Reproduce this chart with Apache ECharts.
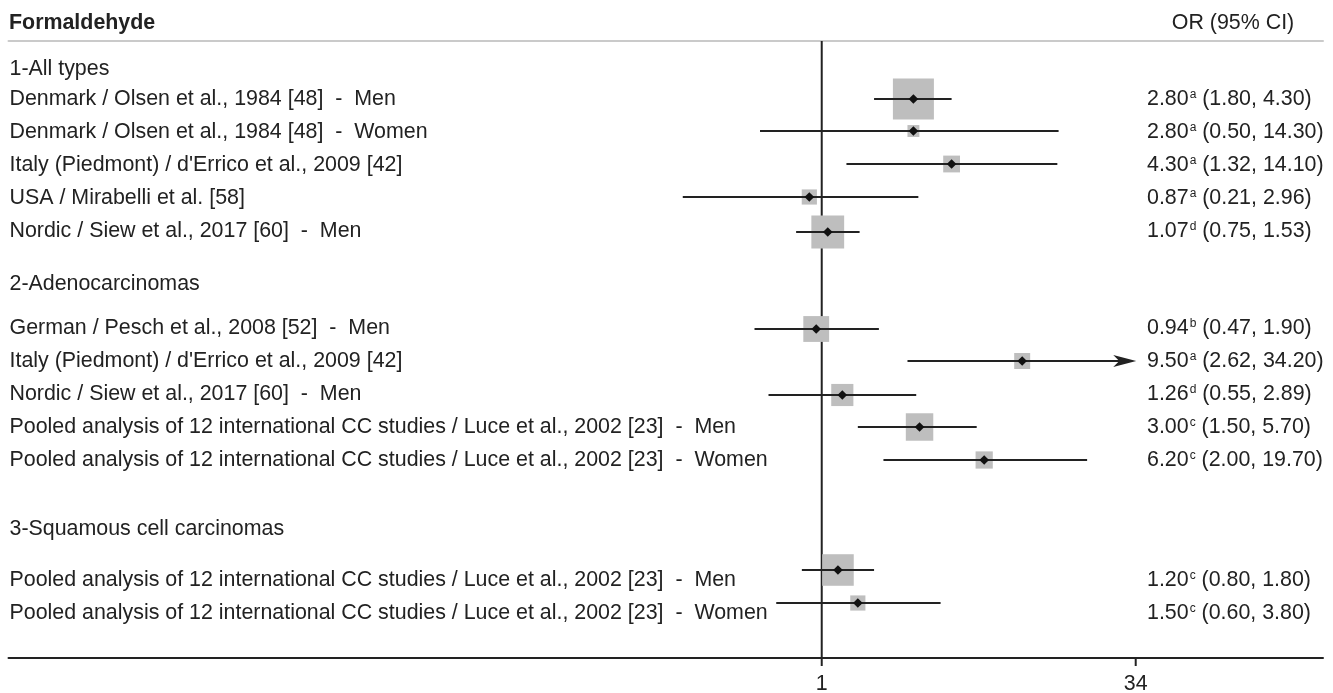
<!DOCTYPE html>
<html><head><meta charset="utf-8">
<script src="https://cdn.jsdelivr.net/npm/echarts@6/dist/echarts.min.js"></script>
<style>html,body{margin:0;padding:0;background:#fff}#c{width:1333px;height:693px}</style>
</head><body><div id="c"></div>
<script>
// ---------------- DATA ----------------
const chartTitle = 'Formaldehyde';
const columnTitle = 'OR (95% CI)';
const groupLabels = ['1-All types', '2-Adenocarcinomas', '3-Squamous cell carcinomas'];
const studyLabels = [
  'Denmark / Olsen et al., 1984 [48]  -  Men',
  'Denmark / Olsen et al., 1984 [48]  -  Women',
  "Italy (Piedmont) / d'Errico et al., 2009 [42]",
  'USA / Mirabelli et al. [58]',
  'Nordic / Siew et al., 2017 [60]  -  Men',
  'German / Pesch et al., 2008 [52]  -  Men',
  "Italy (Piedmont) / d'Errico et al., 2009 [42]",
  'Nordic / Siew et al., 2017 [60]  -  Men',
  'Pooled analysis of 12 international CC studies / Luce et al., 2002 [23]  -  Men',
  'Pooled analysis of 12 international CC studies / Luce et al., 2002 [23]  -  Women',
  'Pooled analysis of 12 international CC studies / Luce et al., 2002 [23]  -  Men',
  'Pooled analysis of 12 international CC studies / Luce et al., 2002 [23]  -  Women'
];
const oddsRatios = [2.80, 2.80, 4.30, 0.87, 1.07, 0.94, 9.50, 1.26, 3.00, 6.20, 1.20, 1.50];
const ciLower    = [1.80, 0.50, 1.32, 0.21, 0.75, 0.47, 2.62, 0.55, 1.50, 2.00, 0.80, 0.60];
const ciUpper    = [4.30, 14.30, 14.10, 2.96, 1.53, 1.90, 34.20, 2.89, 5.70, 19.70, 1.80, 3.80];
const superscripts = ['a', 'a', 'a', 'a', 'd', 'b', 'a', 'd', 'c', 'c', 'c', 'c'];
const boxWeights = [1.00, 0.29, 0.41, 0.37, 0.80, 0.63, 0.39, 0.54, 0.67, 0.42, 0.77, 0.37];
const refValue = 1;
const tickValues = [1, 34];
const tickLabels = ['1', '34'];

// ---------------- LAYOUT ----------------
const FONT = '"Liberation Sans", Arial, Helvetica, sans-serif';
const FS = 21.4;
const INK = '#222';
const BOX = '#bebebe';
const MAX_BOX = 41;
const X_MIN = 1.08e-4, X_MAX = 278.6;   // axis range (log scale)
const Y_MAX = 18.7;                      // rows
const markRows  = [1.75, 2.74, 3.74, 4.74, 5.80, 8.73, 9.71, 10.72, 11.71, 12.71, 16.03, 17.03];
const textRows  = [1.73, 2.73, 3.73, 4.73, 5.73, 8.67, 9.67, 10.67, 11.67, 12.67, 16.30, 17.30];
const groupRows = [0.82, 7.33, 14.76];
const TEXT_DY = 1;
const CI_COL_OFFSET = 176;

const chart = echarts.init(document.getElementById('c'), null, {renderer: 'canvas'});

const fmt = v => v.toFixed(2);
const snap = v => Math.round(v);

const option = {
  animation: false,
  backgroundColor: '#fff',
  grid: {left: 8.5, right: 10, top: 41, bottom: 35, containLabel: false},
  xAxis: [
    {type: 'log', min: X_MIN, max: X_MAX, position: 'bottom',
     axisLine: {show: true, onZero: false, lineStyle: {color: INK, width: 2}},
     axisTick: {show: false}, axisLabel: {show: false}, splitLine: {show: false}},
    {type: 'log', min: X_MIN, max: X_MAX, position: 'top',
     axisLine: {show: true, onZero: false, lineStyle: {color: '#cacaca', width: 2}},
     axisTick: {show: false}, axisLabel: {show: false}, splitLine: {show: false}}
  ],
  yAxis: {type: 'value', inverse: true, min: 0, max: Y_MAX, show: false},
  graphic: [
    {type: 'text', x: 9, y: 23, style: {text: chartTitle, font: `bold ${FS}px ${FONT}`, fill: INK,
      textVerticalAlign: 'middle', verticalAlign: 'middle'}},
    {type: 'text', x: 1233, y: 23, style: {text: columnTitle, font: `${FS}px ${FONT}`, fill: INK,
      textAlign: 'center', align: 'center', textVerticalAlign: 'middle', verticalAlign: 'middle'}}
  ],
  series: [
    // reference line at OR = 1
    {type: 'line', xAxisIndex: 0, data: [[refValue, 0], [refValue, Y_MAX]], symbol: 'none',
     lineStyle: {color: INK, width: 2}, z: 1, silent: true},
    // forest marks
    {type: 'custom', xAxisIndex: 0, z: 3, silent: true,
     encode: {x: [0, 1, 2], y: 3},
     data: oddsRatios.map((v, i) => [v, ciLower[i], ciUpper[i], markRows[i], boxWeights[i]]),
     renderItem: (params, api) => {
       const or = api.value(0), lo = api.value(1), hi = api.value(2), row = api.value(3), w = api.value(4);
       const c = api.coord([or, row]);
       const l = api.coord([lo, row]);
       const h = api.coord([hi, row]);
       const yy = snap(c[1]);
       const s = w * MAX_BOX;
       const arrow = hi > tickValues[tickValues.length - 1];
       const children = [
         {type: 'rect', shape: {x: c[0] - s / 2, y: yy - s / 2, width: s, height: s}, style: {fill: BOX}},
         {type: 'line', shape: {x1: l[0], y1: yy, x2: arrow ? h[0] - 12 : h[0], y2: yy},
          style: {stroke: INK, lineWidth: 2.2}}
       ];
       if (arrow) {
         children.push({type: 'polygon', shape: {points: [[h[0], yy], [h[0] - 23, yy - 6], [h[0] - 17, yy], [h[0] - 23, yy + 6]]},
           style: {fill: INK}});
       }
       const d = 4.8;
       children.push({type: 'polygon', shape: {points: [[c[0] - d, yy], [c[0], yy - d], [c[0] + d, yy], [c[0], yy + d]]},
         style: {fill: '#111'}});
       return {type: 'group', children};
     }},
    // study labels (left column)
    {type: 'custom', xAxisIndex: 0, z: 4, silent: true,
     encode: {x: 0, y: 1},
     data: studyLabels.map((s, i) => [refValue, textRows[i]]),
     renderItem: (params, api) => {
       const cs = params.coordSys;
       const y = api.coord([refValue, api.value(1)])[1] + TEXT_DY;
       return {type: 'text', x: cs.x + 1, y,
         style: {text: studyLabels[params.dataIndex], font: `${FS}px ${FONT}`, fill: INK,
           textAlign: 'left', align: 'left', textVerticalAlign: 'middle', verticalAlign: 'middle'}};
     }},
    // group labels
    {type: 'custom', xAxisIndex: 0, z: 4, silent: true,
     encode: {x: 0, y: 1},
     data: groupLabels.map((s, i) => [refValue, groupRows[i]]),
     renderItem: (params, api) => {
       const cs = params.coordSys;
       const y = api.coord([refValue, api.value(1)])[1] + TEXT_DY;
       return {type: 'text', x: cs.x + 1, y,
         style: {text: groupLabels[params.dataIndex], font: `${FS}px ${FONT}`, fill: INK,
           textAlign: 'left', align: 'left', textVerticalAlign: 'middle', verticalAlign: 'middle'}};
     }},
    // OR (95% CI) column
    {type: 'custom', xAxisIndex: 0, z: 4, silent: true,
     encode: {x: 0, y: 1},
     data: oddsRatios.map((v, i) => [v, textRows[i]]),
     renderItem: (params, api) => {
       const cs = params.coordSys;
       const i = params.dataIndex;
       const y = api.coord([refValue, api.value(1)])[1] + TEXT_DY;
       return {type: 'text', x: cs.x + cs.width - CI_COL_OFFSET, y,
         style: {
           text: `{n|${fmt(oddsRatios[i])}}{s|${superscripts[i]}}{n| (${fmt(ciLower[i])}, ${fmt(ciUpper[i])})}`,
           rich: {
             n: {fontSize: FS, fontFamily: FONT, fill: INK, color: INK, lineHeight: 24, verticalAlign: 'middle'},
             s: {fontSize: 12, fontFamily: FONT, fill: INK, color: INK, lineHeight: 24, verticalAlign: 'top', padding: [2, 0, 0, 1]}
           },
           font: `${FS}px ${FONT}`, fill: INK,
           textAlign: 'left', align: 'left', textVerticalAlign: 'middle', verticalAlign: 'middle'}};
     }},
    // x-axis ticks and labels
    {type: 'custom', xAxisIndex: 0, z: 4, silent: true,
     encode: {x: 0, y: 1},
     data: tickValues.map(v => [v, Y_MAX]),
     renderItem: (params, api) => {
       const cs = params.coordSys;
       const x = api.coord([api.value(0), Y_MAX])[0];
       const yb = cs.y + cs.height;
       return {type: 'group', children: [
         {type: 'line', shape: {x1: x, y1: yb, x2: x, y2: yb + 8}, style: {stroke: INK, lineWidth: 2}},
         {type: 'text', x, y: yb + 26,
          style: {text: tickLabels[params.dataIndex], font: `${FS}px ${FONT}`, fill: INK,
            textAlign: 'center', align: 'center', textVerticalAlign: 'middle', verticalAlign: 'middle'}}
       ]};
     }}
  ]
};
chart.setOption(option);
</script>
</body></html>
